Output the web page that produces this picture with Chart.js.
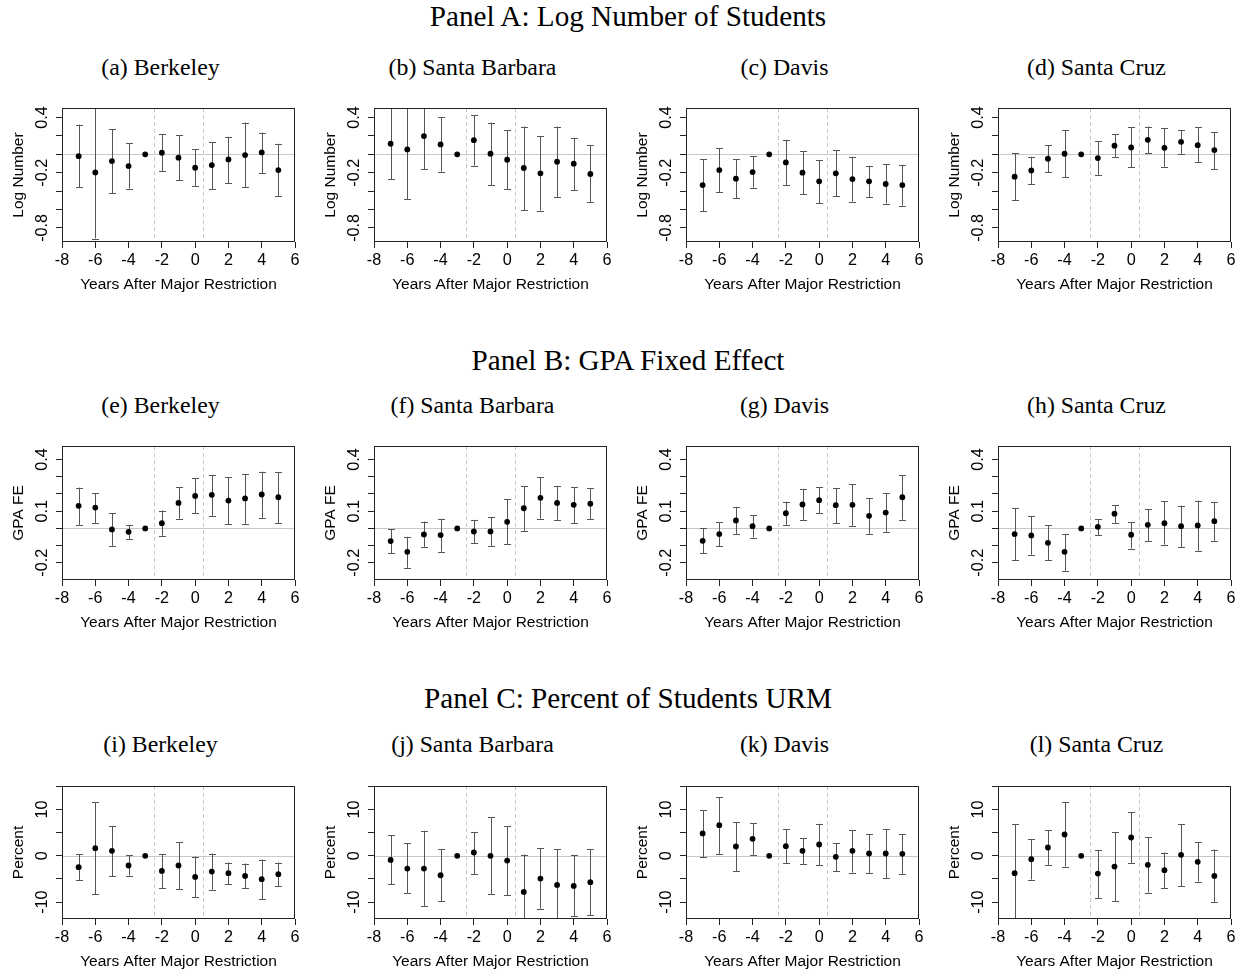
<!DOCTYPE html>
<html>
<head>
<meta charset="utf-8">
<script src="https://cdn.jsdelivr.net/npm/chart.js@4.4.1/dist/chart.umd.min.js"></script>
<style>
  html, body { margin: 0; padding: 0; background: #fff; }
  #fig { position: relative; width: 1244px; height: 973px; overflow: hidden;
         font-family: "Liberation Serif", "Times New Roman", serif; color: #000; }
  .ptitle { position: absolute; left: 6px; width: 1244px; text-align: center; font-size: 29.2px; line-height: 1; white-space: nowrap; }
  .stitle { position: absolute; width: 320px; text-align: center; font-size: 23.8px; line-height: 1; white-space: nowrap; }
  canvas { position: absolute; }
</style>
</head>
<body>
<div id="fig"></div>
<script>
// Event time (years relative to the major restriction); -3 is the omitted year
const years = [-7, -6, -5, -4, -3, -2, -1, 0, 1, 2, 3, 4, 5];
const cutoffs = [-2.5, 0.5];
const xTicks = [-8, -6, -4, -2, 0, 2, 4, 6];

// Panel A: log number of students
const logBerkeleyEst = [-0.02, -0.197, -0.073, -0.128, 0, 0.017, -0.037, -0.146, -0.117, -0.055, -0.008, 0.021, -0.171];
const logBerkeleyLo  = [-0.355, -0.916, -0.425, -0.373, null, -0.185, -0.283, -0.344, -0.381, -0.312, -0.359, -0.207, -0.453];
const logBerkeleyHi  = [0.324, 0.522, 0.273, 0.118, null, 0.216, 0.205, 0.053, 0.129, 0.19, 0.346, 0.237, 0.115];

const logSantaBarbaraEst = [0.115, 0.053, 0.198, 0.108, 0, 0.154, 0.006, -0.059, -0.149, -0.207, -0.081, -0.102, -0.214];
const logSantaBarbaraLo  = [-0.272, -0.489, -0.16, -0.189, null, -0.124, -0.334, -0.381, -0.608, -0.612, -0.464, -0.391, -0.522];
const logSantaBarbaraHi  = [0.55, 0.595, 0.556, 0.404, null, 0.425, 0.346, 0.263, 0.302, 0.194, 0.302, 0.18, 0.097];

const logDavisEst = [-0.335, -0.171, -0.265, -0.193, 0, -0.088, -0.2, -0.294, -0.207, -0.269, -0.294, -0.323, -0.335];
const logDavisLo  = [-0.62, -0.414, -0.475, -0.363, null, -0.334, -0.432, -0.529, -0.453, -0.514, -0.467, -0.536, -0.558];
const logDavisHi  = [-0.055, 0.067, -0.055, -0.023, null, 0.158, 0.035, -0.066, 0.042, -0.026, -0.124, -0.11, -0.113];

const logSantaCruzEst = [-0.243, -0.175, -0.048, 0.006, 0, -0.041, 0.093, 0.075, 0.158, 0.071, 0.136, 0.1, 0.046];
const logSantaCruzLo  = [-0.499, -0.326, -0.193, -0.247, null, -0.222, -0.03, -0.138, 0.01, -0.135, 0.006, -0.088, -0.16];
const logSantaCruzHi  = [0.01, -0.026, 0.097, 0.266, null, 0.143, 0.216, 0.292, 0.302, 0.281, 0.263, 0.292, 0.241];

// Panel B: GPA fixed effect
const gpaBerkeleyEst = [0.131, 0.121, -0.006, -0.02, 0, 0.03, 0.148, 0.189, 0.195, 0.162, 0.174, 0.197, 0.181];
const gpaBerkeleyLo  = [0.021, 0.032, -0.101, -0.061, null, -0.043, 0.057, 0.087, 0.073, 0.025, 0.027, 0.061, 0.03];
const gpaBerkeleyHi  = [0.237, 0.203, 0.088, 0.021, null, 0.104, 0.239, 0.292, 0.311, 0.297, 0.315, 0.33, 0.327];

const gpaSantaBarbaraEst = [-0.074, -0.136, -0.035, -0.039, 0, -0.018, -0.018, 0.038, 0.117, 0.178, 0.148, 0.137, 0.144];
const gpaSantaBarbaraLo  = [-0.144, -0.229, -0.107, -0.136, null, -0.084, -0.101, -0.09, -0.016, 0.057, 0.05, 0.03, 0.054];
const gpaSantaBarbaraHi  = [-0.004, -0.049, 0.04, 0.056, null, 0.05, 0.067, 0.17, 0.245, 0.297, 0.247, 0.239, 0.235];

const gpaDavisEst = [-0.072, -0.033, 0.046, 0.013, 0, 0.088, 0.139, 0.164, 0.135, 0.137, 0.073, 0.092, 0.181];
const gpaDavisLo  = [-0.144, -0.103, -0.032, -0.053, null, 0.021, 0.05, 0.088, 0.03, 0.015, -0.032, -0.02, 0.05];
const gpaDavisHi  = [0.001, 0.036, 0.125, 0.077, null, 0.156, 0.23, 0.239, 0.235, 0.257, 0.175, 0.203, 0.309];

const gpaSantaCruzEst = [-0.033, -0.041, -0.084, -0.136, 0, 0.009, 0.085, -0.037, 0.021, 0.03, 0.013, 0.017, 0.042];
const gpaSantaCruzLo  = [-0.186, -0.153, -0.186, -0.246, null, -0.039, 0.032, -0.117, -0.076, -0.094, -0.109, -0.13, -0.072];
const gpaSantaCruzHi  = [0.119, 0.071, 0.019, -0.032, null, 0.053, 0.135, 0.038, 0.113, 0.158, 0.133, 0.162, 0.154];

// Panel C: percent of students URM
const urmBerkeleyEst = [-2.45, 1.66, 1.08, -2.09, 0, -3.25, -2.09, -4.55, -3.39, -3.75, -4.33, -5.05, -3.97];
const urmBerkeleyLo  = [-5.27, -8.3, -4.4, -4.26, null, -7.0, -7.22, -8.95, -7.29, -6.14, -7.0, -9.39, -6.57];
const urmBerkeleyHi  = [0.36, 11.62, 6.5, 0.14, null, 0.36, 2.96, -0.14, 0.5, -1.44, -1.66, -0.79, -1.44];

const urmSantaBarbaraEst = [-0.87, -2.74, -2.74, -4.19, 0, 0.72, 0, -1.01, -7.8, -4.91, -6.28, -6.5, -5.7];
const urmSantaBarbaraLo  = [-6.14, -8.09, -10.83, -9.82, null, -3.97, -8.3, -8.52, -15.9, -11.41, -14.0, -13.07, -12.85];
const urmSantaBarbaraHi  = [4.48, 2.74, 5.42, 1.44, null, 5.2, 8.3, 6.35, 0.29, 1.59, 1.44, 0.22, 1.44];

const urmDavisEst = [4.84, 6.64, 2.02, 3.68, 0, 2.09, 1.08, 2.45, -0.22, 1.08, 0.51, 0.51, 0.43];
const urmDavisLo  = [-0.22, 0.43, -3.32, 0.22, null, -1.59, -1.81, -2.02, -3.32, -3.61, -3.68, -4.84, -3.9];
const urmDavisHi  = [9.89, 12.64, 7.22, 7.08, null, 5.7, 3.9, 6.93, 2.74, 5.63, 4.69, 5.78, 4.69];

const urmSantaCruzEst = [-3.75, -0.72, 1.81, 4.62, 0, -3.83, -2.31, 3.97, -1.95, -3.1, 0.22, -1.3, -4.33];
const urmSantaCruzLo  = [-14.3, -5.13, -1.95, -2.31, null, -9.1, -9.82, -1.59, -7.94, -6.93, -6.5, -5.56, -9.96];
const urmSantaCruzHi  = [6.79, 3.68, 5.56, 11.62, null, 1.3, 5.13, 9.39, 4.04, 0.72, 6.79, 2.96, 1.37];

// Row titles, panel titles, axis labels and ticks
const rowTitles = ["Panel A: Log Number of Students", "Panel B: GPA Fixed Effect", "Panel C: Percent of Students URM"];
const panelTitles = [
  ["(a) Berkeley", "(b) Santa Barbara", "(c) Davis", "(d) Santa Cruz"],
  ["(e) Berkeley", "(f) Santa Barbara", "(g) Davis", "(h) Santa Cruz"],
  ["(i) Berkeley", "(j) Santa Barbara", "(k) Davis", "(l) Santa Cruz"]
];
const yLabels = ["Log Number", "GPA FE", "Percent"];
const xLabel = "Years After Major Restriction";
const yTicksA = [0.4, 0.2, 0, -0.2, -0.4, -0.6, -0.8];
const yTickLabelsA = ["0.4", "", "", "-0.2", "", "", "-0.8"];
const yTicksB = [0.4, 0.3, 0.2, 0.1, 0, -0.1, -0.2];
const yTickLabelsB = ["0.4", "", "", "0.1", "", "", "-0.2"];
const yTicksC = [15, 10, 5, 0, -5, -10];
const yTickLabelsC = ["", "10", "", "0", "", "-10"];
const yRangeA = [-0.954, 0.504];
const yRangeB = [-0.3, 0.479];
const yRangeC = [-13.65, 15.1];

const rowSeries = [
  [[logBerkeleyEst, logBerkeleyLo, logBerkeleyHi], [logSantaBarbaraEst, logSantaBarbaraLo, logSantaBarbaraHi],
   [logDavisEst, logDavisLo, logDavisHi], [logSantaCruzEst, logSantaCruzLo, logSantaCruzHi]],
  [[gpaBerkeleyEst, gpaBerkeleyLo, gpaBerkeleyHi], [gpaSantaBarbaraEst, gpaSantaBarbaraLo, gpaSantaBarbaraHi],
   [gpaDavisEst, gpaDavisLo, gpaDavisHi], [gpaSantaCruzEst, gpaSantaCruzLo, gpaSantaCruzHi]],
  [[urmBerkeleyEst, urmBerkeleyLo, urmBerkeleyHi], [urmSantaBarbaraEst, urmSantaBarbaraLo, urmSantaBarbaraHi],
   [urmDavisEst, urmDavisLo, urmDavisHi], [urmSantaCruzEst, urmSantaCruzLo, urmSantaCruzHi]]
];
const rowTicks = [[yTicksA, yTickLabelsA, yRangeA], [yTicksB, yTickLabelsB, yRangeB], [yTicksC, yTickLabelsC, yRangeC]];

// Layout (pixels)
const COL_W = 312;
const AREA_LEFT = 62;
const AREA_W = 233;
const rowAreaTop = [108, 446, 786];
const rowAreaH = [134, 134, 133];
const rowTitleY = [17, 361, 699];
const subTitleY = [68, 406, 745];
const SANS = "'Liberation Sans', Arial, sans-serif";
const FONT_SIZE = 15.5;
const TICK_SIZE = 16.2;

const fig = document.getElementById('fig');

rowTitles.forEach((t, r) => {
  const d = document.createElement('div');
  d.className = 'ptitle';
  d.textContent = t;
  d.style.top = (rowTitleY[r] - 15) + 'px';
  fig.appendChild(d);
  panelTitles[r].forEach((s, c) => {
    const e = document.createElement('div');
    e.className = 'stitle';
    e.textContent = s;
    e.style.left = (c * COL_W + 160.5 - 160) + 'px';
    e.style.top = (subTitleY[r] - 12) + 'px';
    fig.appendChild(e);
  });
});

// Reference lines, confidence intervals, frame and rotated y tick labels
const panelDecor = {
  id: 'panelDecor',
  beforeDatasetsDraw(chart, args, opts) {
    const { ctx, chartArea: a, scales: { x, y } } = chart;
    ctx.save();
    ctx.beginPath();
    ctx.rect(a.left, a.top, a.right - a.left, a.bottom - a.top);
    ctx.clip();
    ctx.lineWidth = 1;
    ctx.strokeStyle = '#c8c8c8';
    const y0 = Math.round(y.getPixelForValue(0)) + 0.5;
    ctx.beginPath(); ctx.moveTo(a.left, y0); ctx.lineTo(a.right, y0); ctx.stroke();
    ctx.setLineDash([4, 3]);
    ctx.strokeStyle = '#c8c8c8';
    cutoffs.forEach(v => {
      const px = Math.round(x.getPixelForValue(v)) + 0.5;
      ctx.beginPath(); ctx.moveTo(px, a.top); ctx.lineTo(px, a.bottom); ctx.stroke();
    });
    ctx.setLineDash([]);
    ctx.strokeStyle = '#555';
    opts.lo.forEach((lo, i) => {
      const hi = opts.hi[i];
      if (lo == null || hi == null) return;
      const px = Math.round(x.getPixelForValue(years[i])) + 0.5;
      const pl = y.getPixelForValue(lo), ph = y.getPixelForValue(hi);
      ctx.beginPath();
      ctx.moveTo(px, pl); ctx.lineTo(px, ph);
      ctx.moveTo(px - 3.5, Math.round(pl) + 0.5); ctx.lineTo(px + 3.5, Math.round(pl) + 0.5);
      ctx.moveTo(px - 3.5, Math.round(ph) + 0.5); ctx.lineTo(px + 3.5, Math.round(ph) + 0.5);
      ctx.stroke();
    });
    ctx.restore();
  },
  afterDraw(chart, args, opts) {
    const { ctx, chartArea: a, scales: { y } } = chart;
    ctx.save();
    ctx.strokeStyle = '#222';
    ctx.lineWidth = 1;
    ctx.strokeRect(Math.round(a.left) + 0.5, Math.round(a.top) + 0.5,
                   Math.round(a.right - a.left) - 1, Math.round(a.bottom - a.top) - 1);
    ctx.fillStyle = '#000';
    ctx.font = TICK_SIZE + 'px ' + SANS;
    ctx.textAlign = 'center';
    ctx.textBaseline = 'alphabetic';
    opts.tickValues.forEach((v, i) => {
      const lab = opts.tickLabels[i];
      if (!lab) return;
      const py = y.getPixelForValue(v);
      ctx.save();
      ctx.translate(a.left - 15.5, py);
      ctx.rotate(-Math.PI / 2);
      ctx.fillText(lab, 0, 0);
      ctx.restore();
    });
    ctx.restore();
  }
};

rowSeries.forEach((row, r) => {
  const [tickValues, tickLabels, yRange] = rowTicks[r];
  row.forEach(([est, lo, hi], c) => {
    const W = COL_W, topPad = 12, H = topPad + rowAreaH[r] + 64;
    const cv = document.createElement('canvas');
    cv.width = W; cv.height = H;
    cv.style.width = W + 'px'; cv.style.height = H + 'px';
    cv.style.left = (c * COL_W) + 'px';
    cv.style.top = (rowAreaTop[r] - topPad) + 'px';
    fig.appendChild(cv);

    new Chart(cv, {
      type: 'scatter',
      data: {
        datasets: [{
          data: years.map((yr, i) => ({ x: yr, y: est[i] })),
          pointRadius: 2.9,
          pointBackgroundColor: '#000',
          pointBorderWidth: 0,
          pointHoverRadius: 2.9,
          showLine: false
        }]
      },
      options: {
        responsive: false,
        animation: false,
        devicePixelRatio: 1,
        events: [],
        layout: { padding: { left: 0, top: topPad, right: W - AREA_LEFT - AREA_W, bottom: 0 } },
        plugins: {
          legend: { display: false },
          tooltip: { enabled: false },
          panelDecor: { lo, hi, tickValues, tickLabels }
        },
        scales: {
          x: {
            type: 'linear', min: -8, max: 6,
            afterBuildTicks: axis => { axis.ticks = xTicks.map(v => ({ value: v })); },
            afterFit: axis => { axis.height = H - topPad - rowAreaH[r]; },
            grid: { drawOnChartArea: false, drawTicks: true, tickLength: 6, color: '#222', lineWidth: 1 },
            border: { display: false },
            ticks: { color: '#000', font: { family: SANS, size: TICK_SIZE }, padding: 2.5, maxRotation: 0, minRotation: 0, autoSkip: false },
            title: { display: true, text: xLabel, color: '#000', font: { family: SANS, size: FONT_SIZE }, padding: { top: 0, bottom: 12 } }
          },
          y: {
            type: 'linear', min: yRange[0], max: yRange[1],
            afterBuildTicks: axis => { axis.ticks = tickValues.map(v => ({ value: v })); },
            afterFit: axis => { axis.width = AREA_LEFT; },
            grid: { drawOnChartArea: false, drawTicks: true, tickLength: 6, color: '#222', lineWidth: 1 },
            border: { display: false },
            ticks: { display: false },
            title: { display: true, text: yLabels[r], color: '#000', font: { family: SANS, size: FONT_SIZE }, padding: { top: 9, bottom: 0 } }
          }
        }
      },
      plugins: [panelDecor]
    });
  });
});
</script>
</body>
</html>
